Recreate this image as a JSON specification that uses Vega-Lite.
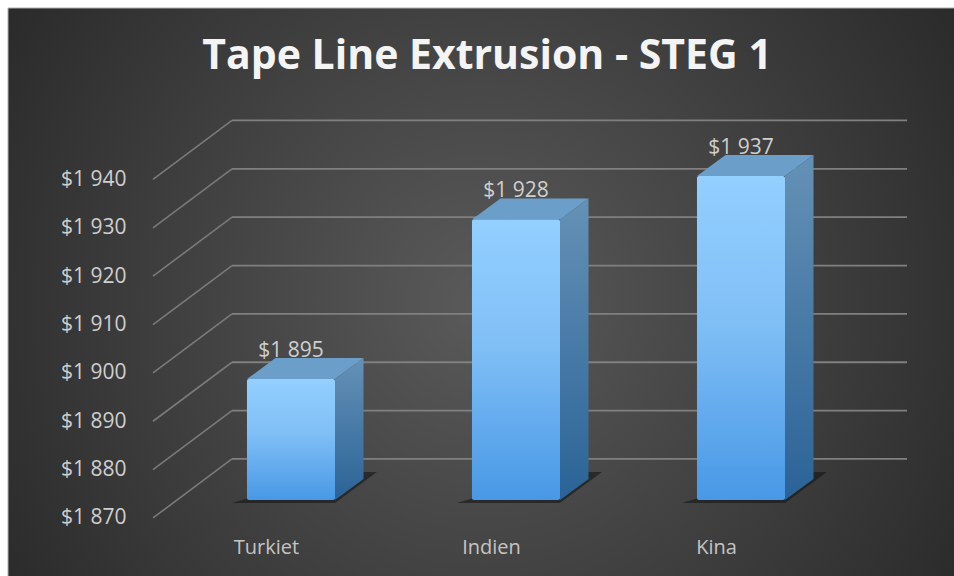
{
  "$schema": "https://vega.github.io/schema/vega-lite/v6.json",
  "width": 954,
  "height": 576,
  "padding": 0,
  "autosize": {"type": "none"},
  "background": "#ffffff",
  "config": {"view": {"stroke": null}},
  "title": {
    "text": "Tape Line Extrusion - STEG 1",
    "font": "Open Sans",
    "fontSize": 41,
    "fontWeight": "bold",
    "color": "#f4f4f4",
    "anchor": "middle",
    "baseline": "alphabetic",
    "offset": -68,
    "dx": 10,
    "dy": 42
  },
  "datasets": {
    "bars": [
      {"land": "Turkiet", "position": 1, "cost": 1895},
      {"land": "Indien", "position": 2, "cost": 1928},
      {"land": "Kina", "position": 3, "cost": 1937}
    ],
    "ticks": [
      {"tick": 1870}, {"tick": 1880}, {"tick": 1890}, {"tick": 1900},
      {"tick": 1910}, {"tick": 1920}, {"tick": 1930}, {"tick": 1940}
    ]
  },
  "encoding": {
    "x": {"type": "quantitative", "scale": {"domain": [-0.2933, 3.9467], "nice": false, "zero": false}},
    "y": {"type": "quantitative", "scale": {"domain": [1854.28, 1973.39], "nice": false, "zero": false}}
  },
  "layer": [
    {
      "description": "Dark panel with a radial glow",
      "data": {"values": [{"panel": 1}]},
      "mark": {
        "type": "rect",
        "stroke": "#b5b5b5",
        "strokeWidth": 1,
        "fill": {
          "gradient": "radial", "x1": 0.5, "y1": 0.5, "r1": 0, "x2": 0.5, "y2": 0.5, "r2": 0.63,
          "stops": [{"offset": 0, "color": "#5a5a5a"}, {"offset": 1, "color": "#272727"}]
        }
      },
      "encoding": {
        "x": {
          "datum": -0.2578, "type": "quantitative",
          "axis": {
            "title": null, "values": [1, 2, 3], "orient": "bottom", "offset": -29, "zindex": 1,
            "domain": false, "ticks": false, "grid": false, "labelOffset": -25, "labelPadding": 0,
            "labelBaseline": "middle", "labelFont": "Open Sans", "labelFontSize": 20, "labelColor": "#c4c4c4",
            "labelExpr": "['Turkiet','Indien','Kina'][datum.value-1]"
          }
        },
        "x2": {"datum": 3.96},
        "y": {
          "datum": 1971.74, "type": "quantitative",
          "axis": {
            "title": null, "values": [1870, 1880, 1890, 1900, 1910, 1920, 1930, 1940], "orient": "left",
            "offset": -126, "zindex": 1, "domain": false, "ticks": false, "grid": false,
            "labelOffset": 18, "labelPadding": 0, "labelFont": "Open Sans", "labelFontSize": 21, "labelColor": "#cfcfcf",
            "labelExpr": "replace(format(datum.value, '$,'), ',', ' ')"
          }
        },
        "y2": {"datum": 1850}
      }
    },
    {
      "description": "Gridlines on the back wall",
      "data": {"name": "ticks"},
      "transform": [{"calculate": "datum.tick + 8.48", "as": "wall"}],
      "mark": {"type": "rule", "color": "#808080", "strokeWidth": 1.8},
      "encoding": {
        "x": {"datum": 0.7378, "type": "quantitative"},
        "x2": {"datum": 3.7378},
        "y": {"field": "wall", "type": "quantitative"}
      }
    },
    {
      "description": "Gridlines running down the side wall",
      "data": {"name": "ticks"},
      "transform": [
        {"calculate": "datum.tick + 8.48", "as": "wall"},
        {"calculate": "datum.tick - 3.72", "as": "front"}
      ],
      "mark": {"type": "rule", "color": "#7a7a7a", "strokeWidth": 1.6},
      "encoding": {
        "x": {"datum": 0.3867, "type": "quantitative"},
        "x2": {"datum": 0.7378},
        "y": {"field": "front", "type": "quantitative"},
        "y2": {"field": "wall"}
      }
    },
    {
      "description": "Floor shadow behind each column",
      "data": {"name": "bars"},
      "transform": [
        {"calculate": "[datum.position - 0.262, datum.position + 0.1956, datum.position + 0.382]", "as": "xs"},
        {"calculate": "[1869.38, 1869.38, 1875.79]", "as": "low"},
        {"calculate": "[1869.38, 1875.79, 1875.79]", "as": "high"},
        {"flatten": ["xs", "low", "high"]}
      ],
      "mark": {"type": "area", "color": "#161616", "opacity": 0.6},
      "encoding": {
        "x": {"field": "xs", "type": "quantitative"},
        "y": {"field": "low", "type": "quantitative"},
        "y2": {"field": "high"},
        "detail": {"field": "land"}
      }
    },
    {
      "description": "Value labels, partly tucked behind the column tops",
      "data": {"name": "bars"},
      "transform": [{"calculate": "replace(format(datum.cost, '$,'), ',', ' ')", "as": "label"}],
      "mark": {"type": "text", "font": "Open Sans", "fontSize": 21, "color": "#cfcfcf", "align": "center", "baseline": "middle", "dy": -28},
      "encoding": {
        "x": {"field": "position", "type": "quantitative"},
        "y": {"field": "cost", "type": "quantitative"},
        "text": {"field": "label"}
      }
    },
    {
      "description": "Top face of each column",
      "data": {"name": "bars"},
      "transform": [
        {"calculate": "[datum.position - 0.1956, datum.position - 0.069, datum.position + 0.1956, datum.position + 0.3223]", "as": "xs"},
        {"calculate": "[datum.cost, datum.cost, datum.cost, datum.cost + 4.34]", "as": "low"},
        {"calculate": "[datum.cost, datum.cost + 4.34, datum.cost + 4.34, datum.cost + 4.34]", "as": "high"},
        {"flatten": ["xs", "low", "high"]}
      ],
      "mark": {"type": "area", "color": "#6b9fca"},
      "encoding": {
        "x": {"field": "xs", "type": "quantitative"},
        "y": {"field": "low", "type": "quantitative"},
        "y2": {"field": "high"},
        "detail": {"field": "land"}
      }
    },
    {
      "description": "Right-hand face of each column",
      "data": {"name": "bars"},
      "transform": [
        {"calculate": "[datum.position + 0.1956, datum.position + 0.3223]", "as": "xs"},
        {"calculate": "[datum.cost, datum.cost + 4.34]", "as": "high"},
        {"calculate": "[1870, 1874.34]", "as": "low"},
        {"flatten": ["xs", "low", "high"]}
      ],
      "mark": {
        "type": "area",
        "fill": {
          "gradient": "linear", "x1": 0, "y1": 0, "x2": 0, "y2": 1,
          "stops": [{"offset": 0, "color": "#6591b6"}, {"offset": 1, "color": "#2b6397"}]
        }
      },
      "encoding": {
        "x": {"field": "xs", "type": "quantitative"},
        "y": {"field": "low", "type": "quantitative"},
        "y2": {"field": "high"},
        "detail": {"field": "land"}
      }
    },
    {
      "description": "Front face of each column",
      "data": {"name": "bars"},
      "transform": [
        {"calculate": "datum.position - 0.1956", "as": "left"},
        {"calculate": "datum.position + 0.1956", "as": "right"}
      ],
      "mark": {
        "type": "rect",
        "cornerRadius": 2,
        "fill": {
          "gradient": "linear", "x1": 0, "y1": 0, "x2": 0, "y2": 1,
          "stops": [
            {"offset": 0, "color": "#93cfff"},
            {"offset": 0.45, "color": "#80bff6"},
            {"offset": 1, "color": "#4898e6"}
          ]
        }
      },
      "encoding": {
        "x": {"field": "left", "type": "quantitative"},
        "x2": {"field": "right"},
        "y": {"field": "cost", "type": "quantitative"},
        "y2": {"datum": 1870}
      }
    }
  ]
}
